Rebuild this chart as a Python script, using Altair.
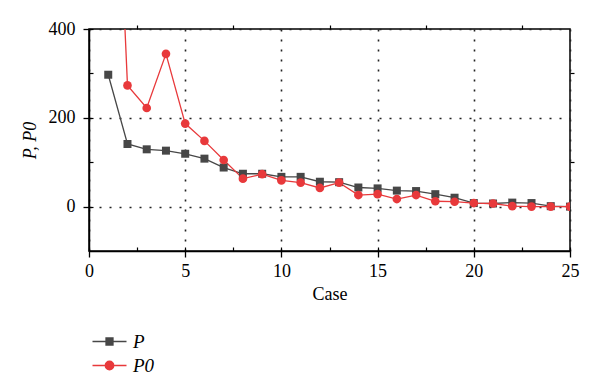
import altair as alt
import pandas as pd

cases = list(range(1, 26))
p_vals = [297, 141, 129, 126, 119, 108, 88, 74, 74, 67, 67, 56, 55, 43, 41, 36, 35, 28, 20, 8, 7, 9, 8, 1, 0]
p0_vals = [1250, 273, 222, 344, 187, 148, 105, 63, 73, 59, 54, 42, 54, 26, 28, 17, 26, 12, 11, 8, 7, 1, 0, 0, 0]
series_names = ["P", "P0"]
marker_colors = ["#474747", "#e8393b"]

x_major = [0, 5, 10, 15, 20, 25]
x_minor = [2.5, 7.5, 12.5, 17.5, 22.5]
y_major = [0, 200, 400]
y_minor = [100, 300]

df = pd.DataFrame({
    "case": cases * 2,
    "value": p_vals + p0_vals,
    "series": ["P"] * len(cases) + ["P0"] * len(cases),
})

FONT = "'Liberation Serif', 'DejaVu Serif', serif"
W, H = 481, 222
xs = alt.Scale(domain=[0, 25], nice=False, zero=False)
ys = alt.Scale(domain=[-100, 400], nice=False, zero=False)
cs = alt.Scale(domain=series_names, range=marker_colors)

base = alt.Chart(df)

ax_main = base.mark_point(opacity=0).encode(
    x=alt.X("case:Q", scale=xs, axis=alt.Axis(
        values=x_major, title="Case", grid=True, gridDash=[2, 8], gridColor="#222",
        gridWidth=1.6, tickSize=6, tickColor="#000", tickWidth=1.3, domainColor="#000",
        domainWidth=1.5, labelFont=FONT, labelFontSize=18, labelColor="#000",
        titleFont=FONT, titleFontSize=18, titleFontWeight="normal", titleColor="#000",
        labelPadding=5, titlePadding=5, labelFlush=False)),
    y=alt.Y("value:Q", scale=ys, axis=alt.Axis(
        values=y_major, title="P, P0", grid=True, gridDash=[2, 8], gridColor="#222",
        gridWidth=1.6, tickSize=6, tickColor="#000", tickWidth=1.3, domainColor="#000",
        domainWidth=1.5, labelFont=FONT, labelFontSize=18, labelColor="#000",
        titleFont=FONT, titleFontSize=18, titleFontWeight="normal", titleFontStyle="italic",
        titleColor="#000", labelPadding=8, titlePadding=9)),
)

ax_minor = base.mark_point(opacity=0).encode(
    x=alt.X("case:Q", scale=xs, axis=alt.Axis(
        values=x_minor, title=None, labels=False, domain=False, grid=False,
        tickSize=4, tickColor="#000", tickWidth=1.2)),
    y=alt.Y("value:Q", scale=ys, axis=alt.Axis(
        values=y_minor, title=None, labels=False, domain=False, grid=False,
        tickSize=4, tickColor="#000", tickWidth=1.2)),
)

ax_mirror = base.mark_point(opacity=0).encode(
    x=alt.X("case:Q", scale=xs, axis=alt.Axis(
        values=x_major + x_minor, title=None, labels=False, domain=False, grid=False,
        tickSize=4, tickColor="#000", tickWidth=1.2, offset=-H)),
    y=alt.Y("value:Q", scale=ys, axis=alt.Axis(
        values=y_major + y_minor, title=None, labels=False, domain=False, grid=False,
        tickSize=4, tickColor="#000", tickWidth=1.2, offset=-W)),
)

sq_path = "M-3.4,0H3.4M-0.7,-0.7H0.7V0.7H-0.7Z"
ci_path = "M-3.4,0H3.4M0.85,0A0.85,0.85,0,1,1,-0.85,0A0.85,0.85,0,1,1,0.85,0Z"

leg = alt.Legend(
    title=None, orient="none", legendX=11, legendY=303, direction="vertical",
    labelFont=FONT, labelFontSize=19, labelFontStyle="italic", labelColor="#000",
    labelOffset=14, symbolSize=100, symbolStrokeWidth=1.3, rowPadding=4,
)

lines = base.mark_line(clip=True, strokeWidth=1.3).encode(
    x=alt.X("case:Q", scale=xs, axis=None),
    y=alt.Y("value:Q", scale=ys, axis=None),
    color=alt.Color("series:N", scale=cs, legend=leg),
)

pts_p = base.transform_filter(alt.datum.series == "P").mark_point(
    shape="square", filled=True, size=64, opacity=1, clip=True, color=marker_colors[0]
).encode(
    x=alt.X("case:Q", scale=xs, axis=None),
    y=alt.Y("value:Q", scale=ys, axis=None),
)

pts_p0 = base.transform_filter(alt.datum.series == "P0").mark_point(
    shape="circle", filled=True, size=75, opacity=1, clip=True, color=marker_colors[1]
).encode(
    x=alt.X("case:Q", scale=xs, axis=None),
    y=alt.Y("value:Q", scale=ys, axis=None),
)

legend_layer = base.mark_point(
    filled=True, size=0, strokeWidth=1.3, opacity=1, clip=True
).encode(
    x=alt.X("case:Q", scale=xs, axis=None),
    y=alt.Y("value:Q", scale=ys, axis=None),
    color=alt.Color("series:N", scale=cs, legend=leg),
    stroke=alt.Stroke("series:N", scale=cs, legend=leg),
    shape=alt.Shape("series:N", scale=alt.Scale(domain=series_names, range=[sq_path, ci_path]), legend=leg),
)

chart = alt.layer(
    ax_main, ax_minor, ax_mirror, lines, pts_p, pts_p0, legend_layer
).resolve_axis(x="independent", y="independent").properties(
    width=W, height=H,
    autosize=alt.AutoSizeParams(type="none"),
    padding={"left": 81, "top": 21, "right": 22, "bottom": 128},
).configure_view(stroke="#000", strokeWidth=1.5)

chart.save("out.html", embed_options={"renderer": "svg", "actions": False})
